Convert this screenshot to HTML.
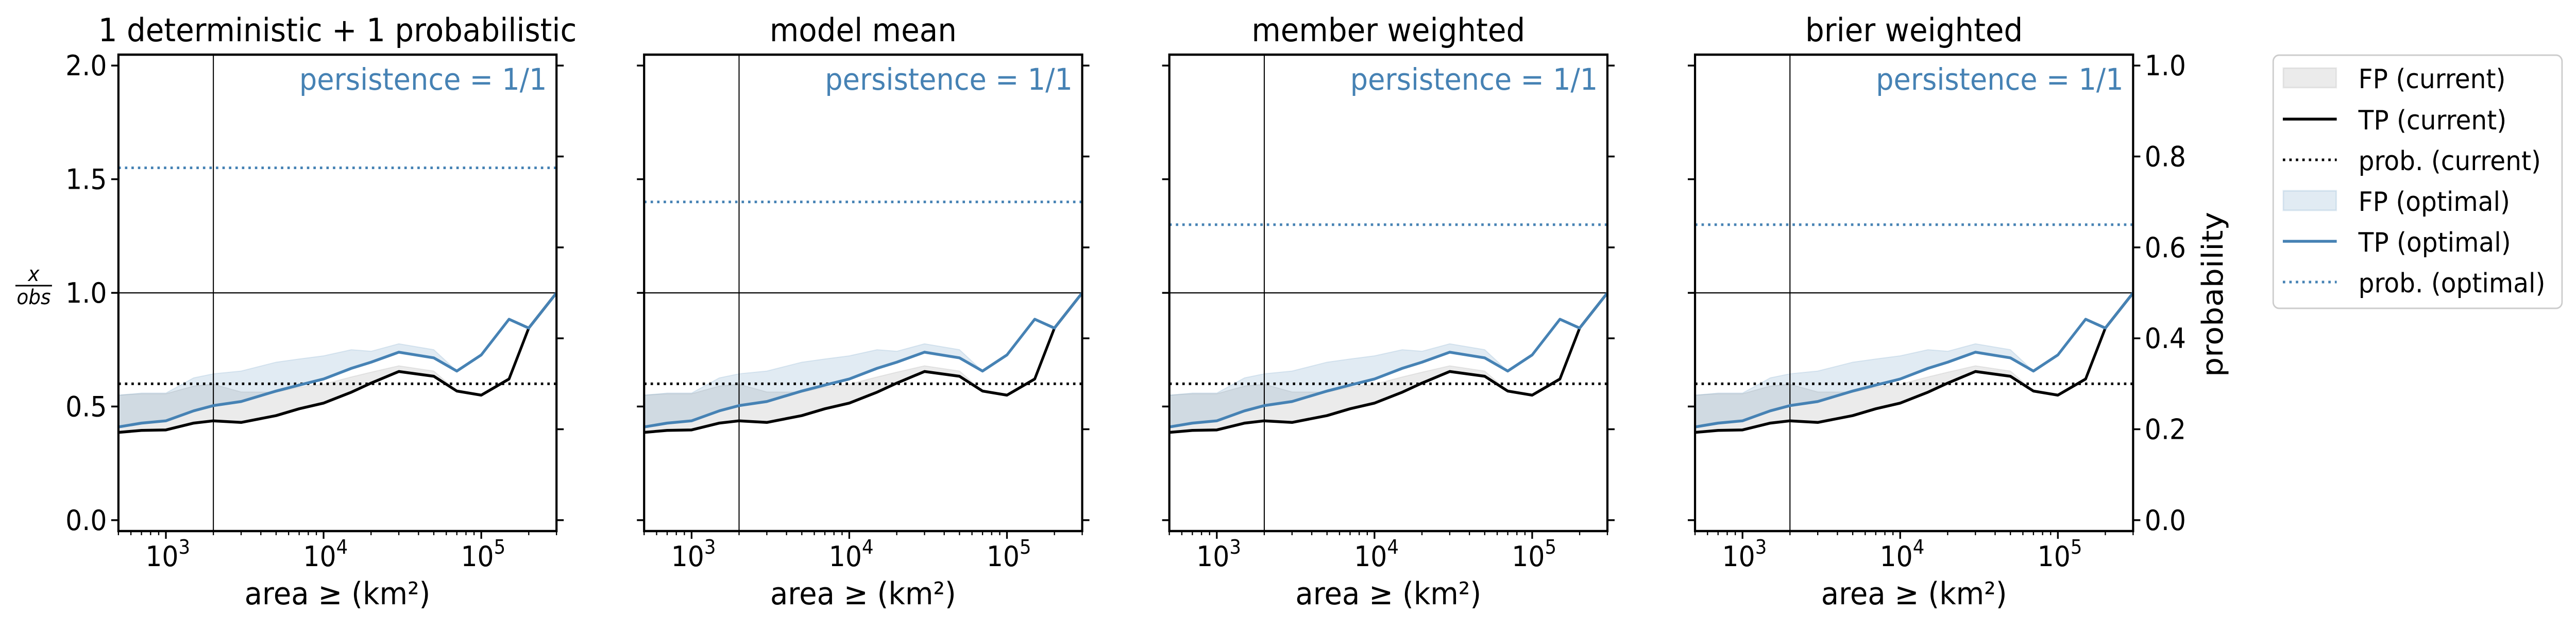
<!DOCTYPE html>
<html><head><meta charset="utf-8"><style>
html,body{margin:0;padding:0;background:#fff;width:100%;height:100%;overflow:hidden;}
svg{display:block;font-family:"DejaVu Sans","Liberation Sans",sans-serif;overflow:hidden;width:100vw;height:100vh;}
</style></head><body>
<svg id="chart" viewBox="0 0 5351 1218" preserveAspectRatio="none" xmlns="http://www.w3.org/2000/svg"></svg>
<script>
const panelTitles = ["1 deterministic + 1 probabilistic","model mean","member weighted","brier weighted"];
const areas = [500,700,1000,1500,2000,3000,5000,7000,10000,15000,20000,30000,50000,70000,100000,150000,200000,300000];
const tpCurrent = [0.386,0.395,0.397,0.427,0.437,0.430,0.46,0.49,0.515,0.563,0.603,0.654,0.633,0.568,0.550,0.621,0.845,1.0];
const fpCurrent = [0.55,0.556,0.556,0.59,0.598,0.564,0.563,0.585,0.598,0.63,0.651,0.679,0.656,0.568,0.550,0.621,0.845,1.0];
const tpOptimal = [0.41,0.427,0.437,0.481,0.504,0.522,0.568,0.594,0.621,0.668,0.695,0.739,0.714,0.656,0.727,0.884,0.845,1.0];
const fpOptimal = [0.55,0.559,0.559,0.626,0.644,0.656,0.695,0.709,0.723,0.75,0.743,0.776,0.75,0.656,0.727,0.884,0.845,1.0];
const probCurrent = [0.3,0.3,0.3,0.3];
const probOptimal = [0.775,0.70,0.65,0.65];
const leftTicks = [0.0,0.5,1.0,1.5,2.0];
const rightTicks = [0.0,0.2,0.4,0.6,0.8,1.0];
const xTicks = [3,4,5];

const NS="http://www.w3.org/2000/svg";
const svg=document.getElementById('chart');
function mk(tag,attrs,parent){const e=document.createElementNS(NS,tag);for(const k in attrs)e.setAttribute(k,attrs[k]);(parent||svg).appendChild(e);return e;}
const PX=[246,1338,2429,3521], PW=910, TOP=106, BOT=1030;
const XMIN=Math.log10(500), XMAX=Math.log10(300000), YMIN=-0.048, YMAX=2.048;
const BLUE="#4682b4";

PX.forEach((L,pi)=>{
  const g=mk('g',{});
  
  
  const xs=v=>L+(Math.log10(v)-XMIN)/(XMAX-XMIN)*PW;
  const ys=v=>BOT-(v-YMIN)/(YMAX-YMIN)*(BOT-TOP);
  const clipId='clip'+pi;
  const cp=mk('clipPath',{id:clipId},g);mk('rect',{x:L,y:TOP,width:PW,height:BOT-TOP},cp);
  const plot=mk('g',{'clip-path':'url(#'+clipId+')'},g);
  function band(up,lo,fill,name){
    let d='M'+areas.map((a,i)=>xs(a)+','+ys(up[i])).join('L');
    for(let i=areas.length-1;i>=0;i--)d+='L'+xs(areas[i])+','+ys(lo[i]);
    const p=mk('path',{d:d+'Z',fill:fill,stroke:fill,'stroke-width':2},plot);
    
    
  }
  band(fpCurrent,tpCurrent,'rgba(128,128,128,0.16)','fp-current-band');
  band(fpOptimal,tpOptimal,'rgba(70,130,180,0.16)','fp-optimal-band');
  const h=mk('line',{x1:L,x2:L+PW,y1:ys(1),y2:ys(1),stroke:'#000','stroke-width':2.2},plot);
  
  
  const v=mk('line',{x1:xs(2000),x2:xs(2000),y1:TOP,y2:BOT,stroke:'#000','stroke-width':2.2},plot);
  
  
  const pc=mk('line',{x1:L,x2:L+PW,y1:ys(2*probCurrent[pi]),y2:ys(2*probCurrent[pi]),stroke:'#000','stroke-width':5,'stroke-dasharray':'5,8.5'},plot);
  
  
  const po=mk('line',{x1:L,x2:L+PW,y1:ys(2*probOptimal[pi]),y2:ys(2*probOptimal[pi]),stroke:BLUE,'stroke-width':5,'stroke-dasharray':'5,8.5'},plot);
  
  
  const l1=mk('polyline',{points:areas.map((a,i)=>xs(a)+','+ys(tpCurrent[i])).join(' '),fill:'none',stroke:'#000','stroke-width':5.5,'stroke-linejoin':'round'},plot);
  
  
  const l2=mk('polyline',{points:areas.map((a,i)=>xs(a)+','+ys(tpOptimal[i])).join(' '),fill:'none',stroke:BLUE,'stroke-width':5.5,'stroke-linejoin':'round'},plot);
  
  
  const fr=mk('rect',{x:L,y:TOP,width:PW,height:BOT-TOP,fill:'none',stroke:'#000','stroke-width':4.5},g);
  
  
  leftTicks.forEach(t=>{
    const y=ys(t);
    mk('line',{x1:L-15,x2:L,y1:y,y2:y,stroke:'#000','stroke-width':3.5},g);
    if(pi===0){const tx=mk('text',{x:L-24,y:y+19,'text-anchor':'end','font-size':54},g);tx.textContent=t.toFixed(1);
      
      }
  });
  rightTicks.forEach(t=>{
    const y=ys(2*t);
    mk('line',{x1:L+PW,x2:L+PW+15,y1:y,y2:y,stroke:'#000','stroke-width':3.5},g);
    if(pi===3){const tx=mk('text',{x:L+PW+24,y:y+19,'font-size':54},g);tx.textContent=t.toFixed(1);
      
      }
  });
  for(let d=2;d<=5;d++)for(let m=1;m<=9;m++){
    const val=m*Math.pow(10,d);if(val<500||val>300000)continue;
    const x=xs(val);
    mk('line',{x1:x,x2:x,y1:BOT,y2:BOT+(m===1?15:8),stroke:'#000','stroke-width':m===1?3.5:2.5},g);
  }
  xTicks.forEach(e=>{
    const x=xs(Math.pow(10,e));
    const tx=mk('text',{x:x+4,y:1098,'text-anchor':'middle','font-size':54},g);
    
    
    tx.innerHTML='10<tspan dy="-24" font-size="38">'+e+'</tspan>';
  });
  const xl=mk('text',{x:L+PW/2,y:1172,'text-anchor':'middle','font-size':60},g);
  xl.textContent='area ≥ (km²)';
  
  
  const ti=mk('text',{x:L+PW/2,y:80,'text-anchor':'middle','font-size':62},g);
  ti.textContent=panelTitles[pi];
  
  
  const pe=mk('text',{x:L+PW-20,y:174,'text-anchor':'end','font-size':58,fill:BLUE},g);
  pe.textContent='persistence = 1/1';
  
  
});

const yl=mk('g',{});


let t1=mk('text',{x:70,y:545,'text-anchor':'middle','font-size':40,'font-style':'italic'},yl);t1.textContent='x';
mk('line',{x1:32,x2:108,y1:554,y2:554,stroke:'#000','stroke-width':3},yl);
let t2=mk('text',{x:70,y:590,'text-anchor':'middle','font-size':40,'font-style':'italic'},yl);t2.textContent='obs';
const rl=mk('text',{x:0,y:0,'text-anchor':'middle','font-size':60,transform:'translate(4617,571) rotate(-90)'});
rl.textContent='probability';



const lg=mk('g',{});


mk('rect',{x:4722,y:107,width:600,height:491,rx:12,fill:'#fff',stroke:'#ccc','stroke-width':3},lg);
const entries=[
 ['FP (current)','band','rgba(128,128,128,0.16)'],
 ['TP (current)','line','#000'],
 ['prob. (current)','dot','#000'],
 ['FP (optimal)','band','rgba(70,130,180,0.16)'],
 ['TP (optimal)','line',BLUE],
 ['prob. (optimal)','dot',BLUE]];
const ec=[151,231,310,389,468,547];
entries.forEach((e,i)=>{
  const g=mk('g',{},lg);
  
  
  const cy=ec[i];
  if(e[1]==='band')mk('rect',{x:4743,y:cy-19,width:110,height:38,fill:e[2],stroke:e[2],'stroke-width':3},g);
  else if(e[1]==='line')mk('line',{x1:4742,x2:4854,y1:cy,y2:cy,stroke:e[2],'stroke-width':5.5},g);
  else mk('line',{x1:4742,x2:4854,y1:cy,y2:cy,stroke:e[2],'stroke-width':5,'stroke-dasharray':'5,8.5'},g);
  const t=mk('text',{x:4899,y:cy+20,'font-size':52},g);t.textContent=e[0];
});
</script>
</body></html>
